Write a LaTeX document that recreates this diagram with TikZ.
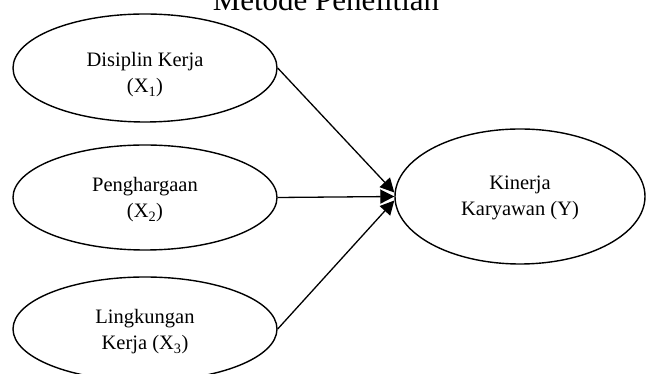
\documentclass[tikz,border=0pt]{standalone}
\usepackage{fontspec}
\setmainfont{Liberation Serif}
\usetikzlibrary{shapes.geometric,arrows.meta}
\tikzset{
  oval/.style={draw=black, line width=1.4pt, ellipse, inner sep=0pt},
  lbl/.style={align=center, font=\fontsize{20.5}{26}\selectfont, inner sep=0pt},
  link/.style={draw=black, line width=1.3pt, -{Triangle[length=14pt,width=14pt]}}
}
\begin{document}
\begin{tikzpicture}[x=1pt,y=1pt]
\useasboundingbox (0,0) rectangle (648,374);
\fill[white] (0,0) rectangle (648,374);
\node[anchor=base, font=\fontsize{31}{36}\selectfont, inner sep=0pt] (title) at (326,363) {Metode Penelitian};
\node[oval, minimum width=264pt, minimum height=108pt] (E1) at (145,306) {};
\node[oval, minimum width=264pt, minimum height=105pt] (E2) at (145,176.5) {};
\node[oval, minimum width=264pt, minimum height=104pt] (E3) at (145,45) {};
\node[oval, minimum width=250pt, minimum height=135pt] (EY) at (520,177.5) {};
\node[lbl] (t1) at (145,299) {Disiplin Kerja\\(X\textsubscript{1})};
\node[lbl] (t2) at (145,174) {Penghargaan\\(X\textsubscript{2})};
\node[lbl] (t3) at (145,42) {Lingkungan\\Kerja (X\textsubscript{3})};
\node[lbl] (tY) at (520,176.5) {Kinerja\\Karyawan (Y)};
\draw[link] (E1.east) -- ([yshift=4pt]EY.west);
\draw[link] (E2.east) -- (EY.west);
\draw[link] (E3.east) -- ([yshift=-4pt]EY.west);
\end{tikzpicture}
\end{document}
